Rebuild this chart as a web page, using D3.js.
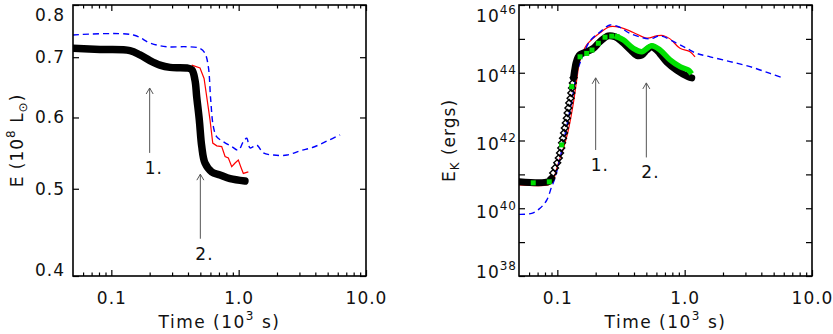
<!DOCTYPE html>
<html>
<head>
<meta charset="utf-8">
<script src="https://cdn.jsdelivr.net/npm/d3@7"></script>
<style>
    body { margin: 0; background: #fff; }
    svg { display: block; font-family: "DejaVu Sans", sans-serif; }
    svg text, .axis text { font-family: "DejaVu Sans", sans-serif; font-size: 17px; fill: #111; letter-spacing: 1px; }
    .axis line { stroke: #000; stroke-width: 1.2; }
</style>
</head>
<body>
<svg id="drawing_region"></svg>
<script>
// time axis (10^3 s), same for both panels
const time_ticks = [0.1, 1, 10];
const time_labels = ['0.1', '1.0', '10.0'];
const time_minor = [0.06, 0.07, 0.08, 0.09, 0.2, 0.3, 0.4, 0.5, 0.6, 0.7, 0.8, 0.9, 2, 3, 4, 5, 6, 7, 8, 9];

// left panel: E (10^8 Lsun)
const e_ticks = [0.4, 0.5, 0.6, 0.7, 0.8];
const e_labels = ['0.4', '0.5', '0.6', '0.7', '0.8'];

const lum_black_t = [0.05, 0.0815, 0.140, 0.168, 0.201, 0.241, 0.289, 0.391, 0.428, 0.454, 0.468, 0.491, 0.513, 0.544, 0.615, 0.714, 0.856, 1.12];
const lum_black_e = [0.716, 0.714, 0.712, 0.704, 0.694, 0.686, 0.682, 0.681, 0.678, 0.660, 0.633, 0.596, 0.557, 0.534, 0.522, 0.518, 0.513, 0.510];

const lum_red_t = [0.428, 0.497, 0.535, 0.561, 0.596, 0.626, 0.673, 0.736, 0.782, 0.830, 0.882, 0.937, 0.994, 1.038, 1.088, 1.191];
const lum_red_e = [0.686, 0.681, 0.663, 0.633, 0.596, 0.562, 0.558, 0.557, 0.543, 0.541, 0.529, 0.534, 0.538, 0.529, 0.520, 0.522];

const lum_blue_t = [0.05, 0.149, 0.201, 0.272, 0.391, 0.497, 0.544, 0.578, 0.603, 0.633, 0.673, 0.758, 0.882, 0.994, 1.088, 1.157, 1.229, 1.387, 1.563, 1.874, 2.40, 3.04, 3.84, 4.95, 6.26];
const lum_blue_e = [0.741, 0.741, 0.726, 0.719, 0.719, 0.716, 0.707, 0.683, 0.628, 0.586, 0.571, 0.564, 0.557, 0.552, 0.564, 0.569, 0.555, 0.559, 0.548, 0.545, 0.545, 0.551, 0.556, 0.565, 0.574];

// right panel: E_K (ergs), values kept as log10
const ek_major = [38, 40, 42, 44, 46];
const ek_minor = [39, 41, 43, 45];

const ek_flat_t = [0.05, 0.0849, 0.0892];
const ek_flat_log = [40.78, 40.78, 40.86];

const ek_rise_t = [0.0900, 0.0928, 0.0959, 0.0998, 0.1027, 0.1050, 0.1073, 0.1089, 0.1108, 0.1129, 0.1145, 0.1166, 0.1187, 0.1204, 0.1222, 0.1240, 0.1270, 0.1288, 0.1304, 0.1323, 0.1342];
const ek_rise_log = [40.89, 41.04, 41.19, 41.34, 41.48, 41.63, 41.78, 41.93, 42.07, 42.22, 42.37, 42.52, 42.66, 42.81, 42.96, 43.11, 43.25, 43.40, 43.55, 43.70, 43.85];

const ek_top_t = [0.1342, 0.1357, 0.1377, 0.1402, 0.1454, 0.1508, 0.1701, 0.1917, 0.2164, 0.2514, 0.2839, 0.3206, 0.3724, 0.4204, 0.4602, 0.5036, 0.5514, 0.6036, 0.723, 0.8667, 1.069, 1.137];
const ek_top_log = [43.85, 43.99, 44.14, 44.29, 44.46, 44.54, 44.62, 44.72, 44.92, 45.09, 45.06, 44.92, 44.69, 44.51, 44.52, 44.67, 44.76, 44.67, 44.32, 44.08, 43.88, 43.85];

const ek_sq_t = [0.0647, 0.0865, 0.1083, 0.1297, 0.1508, 0.1701, 0.1872, 0.2099, 0.2369, 0.2674, 0.2959];
const ek_sq_log = [40.75, 40.78, 41.87, 43.59, 44.47, 44.57, 44.67, 44.87, 45.05, 45.08, 45.06];

const ek_green_t = [0.2959, 0.3299, 0.3952, 0.4602, 0.5514, 0.6404, 0.768, 0.920, 1.069, 1.102];
const ek_green_log = [45.06, 44.97, 44.72, 44.62, 44.80, 44.67, 44.38, 44.18, 44.08, 44.03];

const ek_red_t = [0.05, 0.0845, 0.0917, 0.0976, 0.1031, 0.1119, 0.1220, 0.1336, 0.1420, 0.1508, 0.1701, 0.2164, 0.2593, 0.3107, 0.3952, 0.5036, 0.6036, 0.6765, 0.768, 0.920, 1.102, 1.206];
const ek_red_log = [40.69, 40.69, 40.77, 41.10, 41.39, 41.78, 42.31, 43.10, 43.79, 44.38, 44.82, 45.18, 45.36, 45.34, 45.19, 45.02, 45.09, 45.10, 45.00, 44.72, 44.62, 44.47];

const ek_blue_t = [0.05, 0.0629, 0.0731, 0.0826, 0.0903, 0.0947, 0.105, 0.117, 0.1304, 0.1428, 0.1563, 0.1806, 0.2164, 0.2593, 0.3107, 0.3724, 0.5346, 0.6404, 0.8667, 1.038, 1.245, 1.583, 2.273, 3.263, 4.685, 5.96];
const ek_blue_log = [39.82, 39.85, 40.00, 40.24, 40.64, 40.83, 41.48, 42.31, 43.20, 44.02, 44.44, 44.94, 45.20, 45.41, 45.34, 45.16, 45.00, 45.09, 44.87, 44.72, 44.57, 44.47, 44.33, 44.18, 43.98, 43.84];

// arrows marking events 1. and 2.
const arrow_t = [0.2, 0.5];
const arrow_labels = ['1.', '2.'];
const lum_arrow_from = [0.548, 0.44];
const lum_arrow_to = [0.647, 0.519];
const ek_arrow_from = [41.72, 41.5];
const ek_arrow_to = [43.85, 43.7];

const zip = (a, b) => a.map((d, i) => [d, b[i]]);

const svg = d3.select('#drawing_region')
    .attr('width', 833)
    .attr('height', 334);

function makePanel(box, ydomain, id) {
    const g = svg.append('g');
    const x = d3.scaleLog().domain([0.05, 10]).range([box.left, box.right]);
    const y = d3.scaleLog().domain(ydomain).range([box.bottom, box.top]);
    svg.append('clipPath').attr('id', id).append('rect')
        .attr('x', box.left).attr('y', box.top)
        .attr('width', box.right - box.left).attr('height', box.bottom - box.top);
    const plot = g.append('g').attr('clip-path', `url(#${id})`);
    return { g, x, y, plot, box };
}

function timeAxes(p) {
    const b = p.box;
    p.g.append('g').attr('class', 'axis')
        .attr('transform', `translate(0,${b.bottom})`)
        .call(d3.axisBottom(p.x).tickValues(time_ticks).tickFormat((d, i) => time_labels[i])
            .tickSize(-6).tickSizeOuter(0).tickPadding(16));
    p.g.append('g').attr('class', 'axis')
        .attr('transform', `translate(0,${b.bottom})`)
        .call(d3.axisBottom(p.x).tickValues(time_minor).tickFormat('').tickSize(-3.5).tickSizeOuter(0));
    p.g.append('g').attr('class', 'axis')
        .attr('transform', `translate(0,${b.top})`)
        .call(d3.axisTop(p.x).tickValues(time_ticks).tickFormat('').tickSize(-6).tickSizeOuter(0));
    p.g.append('g').attr('class', 'axis')
        .attr('transform', `translate(0,${b.top})`)
        .call(d3.axisTop(p.x).tickValues(time_minor).tickFormat('').tickSize(-3.5).tickSizeOuter(0));

    const title = p.g.append('text')
        .attr('x', (b.left + b.right) / 2)
        .attr('y', 328)
        .attr('text-anchor', 'middle')
        .style('letter-spacing', '1.5px');
    title.append('tspan').text('Time (10');
    title.append('tspan').attr('dy', -8).style('font-size', '12px').text('3');
    title.append('tspan').attr('dy', 8).text(' s)');
}

function frame(p) {
    const b = p.box;
    p.g.selectAll('.domain').remove();
    p.g.append('rect')
        .attr('x', b.left).attr('y', b.top)
        .attr('width', b.right - b.left).attr('height', b.bottom - b.top)
        .attr('fill', 'none').attr('stroke', '#000').attr('stroke-width', 1.6);
}

function arrows(p, from, to, fy) {
    arrow_t.forEach((t, i) => {
        const x = p.x(t), y0 = p.y(fy(from[i])), y1 = p.y(fy(to[i]));
        p.g.append('line')
            .attr('x1', x).attr('x2', x).attr('y1', y0).attr('y2', y1)
            .attr('stroke', '#555').attr('stroke-width', 1);
        p.g.append('path')
            .attr('d', `M${x - 3.5},${y1 + 6}L${x},${y1}L${x + 3.5},${y1 + 6}`)
            .attr('fill', 'none').attr('stroke', '#555').attr('stroke-width', 1);
        p.g.append('text')
            .attr('x', x - 5).attr('y', y0 + 21)
            .text(arrow_labels[i]);
    });
}

// ---------- left panel ----------
const pl = makePanel({ left: 73, right: 366, top: 5, bottom: 276 }, [0.4, 0.8], 'clipL');

const lineL = d3.line().x(d => pl.x(d[0])).y(d => pl.y(d[1])).curve(d3.curveMonotoneX);

pl.plot.append('path')
    .datum(zip(lum_red_t, lum_red_e))
    .attr('d', d3.line().x(d => pl.x(d[0])).y(d => pl.y(d[1])))
    .attr('fill', 'none').attr('stroke', '#ff0000').attr('stroke-width', 1.2);

pl.plot.append('path')
    .datum(zip(lum_blue_t, lum_blue_e))
    .attr('d', d3.line().x(d => pl.x(d[0])).y(d => pl.y(d[1])).curve(d3.curveCatmullRom))
    .attr('fill', 'none').attr('stroke', '#0000ff').attr('stroke-width', 1.4)
    .attr('stroke-dasharray', '6,4');

pl.plot.append('path')
    .datum(zip(lum_black_t, lum_black_e))
    .attr('d', d3.line().x(d => pl.x(d[0])).y(d => pl.y(d[1])).curve(d3.curveCatmullRom))
    .attr('fill', 'none').attr('stroke', '#000').attr('stroke-width', 7.5)
    .attr('stroke-linecap', 'round').attr('stroke-linejoin', 'round');

timeAxes(pl);

pl.g.append('g').attr('class', 'axis yl')
    .attr('transform', `translate(${pl.box.left},0)`)
    .call(d3.axisLeft(pl.y).tickValues(e_ticks).tickFormat((d, i) => e_labels[i])
        .tickSize(-6).tickSizeOuter(0).tickPadding(8));
pl.g.append('g').attr('class', 'axis')
    .attr('transform', `translate(${pl.box.right},0)`)
    .call(d3.axisRight(pl.y).tickValues(e_ticks).tickFormat('').tickSize(-6).tickSizeOuter(0));

// IDL pulls the end labels inside the box
pl.g.selectAll('.yl .tick text')
    .attr('y', d => d === 0.8 ? 10 : d === 0.4 ? -6 : 0);

const ytL = pl.g.append('text')
    .attr('transform', `translate(23,${(pl.box.top + pl.box.bottom) / 2}) rotate(-90)`)
    .attr('text-anchor', 'middle');
ytL.append('tspan').text('E (10');
ytL.append('tspan').attr('dy', -8).style('font-size', '12px').text('8');
ytL.append('tspan').attr('dy', 8).text(' L');
ytL.append('tspan').attr('dy', 4).style('font-size', '12px').text('\u2299');
ytL.append('tspan').attr('dy', -4).text(')');

arrows(pl, lum_arrow_from, lum_arrow_to, v => v);
frame(pl);

// ---------- right panel ----------
const pr = makePanel({ left: 519, right: 812, top: 5, bottom: 276 }, [1e38, 1e46], 'clipR');
const lineR = d3.line().x(d => pr.x(d[0])).y(d => pr.y(Math.pow(10, d[1])));

pr.plot.append('path')
    .datum(zip(ek_red_t, ek_red_log))
    .attr('d', lineR.curve(d3.curveCatmullRom))
    .attr('fill', 'none').attr('stroke', '#ff0000').attr('stroke-width', 1.2);

pr.plot.append('path')
    .datum(zip(ek_blue_t, ek_blue_log))
    .attr('d', lineR.curve(d3.curveCatmullRom))
    .attr('fill', 'none').attr('stroke', '#0000ff').attr('stroke-width', 1.4)
    .attr('stroke-dasharray', '6,4');

[zip(ek_flat_t, ek_flat_log), zip(ek_top_t, ek_top_log)].forEach(seg => {
    pr.plot.append('path')
        .datum(seg)
        .attr('d', lineR.curve(d3.curveCatmullRom))
        .attr('fill', 'none').attr('stroke', '#000').attr('stroke-width', 7)
        .attr('stroke-linecap', 'round').attr('stroke-linejoin', 'round');
});

pr.plot.selectAll('path.diamond')
    .data(zip(ek_rise_t, ek_rise_log))
    .enter()
    .append('path')
    .attr('class', 'diamond')
    .attr('d', d3.symbol().type(d3.symbolSquare).size(24))
    .attr('transform', d => `translate(${pr.x(d[0])},${pr.y(Math.pow(10, d[1]))}) rotate(45)`)
    .attr('fill', 'none').attr('stroke', '#000').attr('stroke-width', 1.4);

pr.plot.append('path')
    .datum(zip(ek_green_t, ek_green_log))
    .attr('d', lineR.curve(d3.curveCatmullRom))
    .attr('fill', 'none').attr('stroke', '#00e000').attr('stroke-width', 5.5)
    .attr('stroke-linecap', 'square');

pr.plot.selectAll('path.sq')
    .data(zip(ek_sq_t, ek_sq_log))
    .enter()
    .append('path')
    .attr('class', 'sq')
    .attr('d', d3.symbol().type(d3.symbolSquare).size(25))
    .attr('transform', d => `translate(${pr.x(d[0])},${pr.y(Math.pow(10, d[1]))})`)
    .attr('fill', '#00e000');

timeAxes(pr);

const yr = pr.g.append('g').attr('class', 'axis yr')
    .attr('transform', `translate(${pr.box.left},0)`)
    .call(d3.axisLeft(pr.y).tickValues(ek_major.map(v => Math.pow(10, v))).tickFormat('')
        .tickSize(-6).tickSizeOuter(0));
pr.g.append('g').attr('class', 'axis')
    .attr('transform', `translate(${pr.box.left},0)`)
    .call(d3.axisLeft(pr.y).tickValues(ek_minor.map(v => Math.pow(10, v))).tickFormat('')
        .tickSize(-6).tickSizeOuter(0));
[ek_major, ek_minor].forEach(vals => {
    pr.g.append('g').attr('class', 'axis')
        .attr('transform', `translate(${pr.box.right},0)`)
        .call(d3.axisRight(pr.y).tickValues(vals.map(v => Math.pow(10, v))).tickFormat('')
            .tickSize(-6).tickSizeOuter(0));
});

yr.selectAll('.tick').each(function(d, i) {
    const shift = i === ek_major.length - 1 ? 7 : i === 0 ? -8 : 0;
    const t = d3.select(this).append('text')
        .attr('x', -2).attr('y', 9 + shift)
        .attr('text-anchor', 'end');
    t.append('tspan').text('10');
    t.append('tspan').attr('dy', -8).style('font-size', '12px').text(ek_major[i]);
});

const ytR = pr.g.append('text')
    .attr('transform', `translate(455,${(pr.box.top + pr.box.bottom) / 2}) rotate(-90)`)
    .attr('text-anchor', 'middle');
ytR.append('tspan').text('E');
ytR.append('tspan').attr('dy', 4).style('font-size', '12px').text('K');
ytR.append('tspan').attr('dy', -4).text(' (ergs)');

arrows(pr, ek_arrow_from, ek_arrow_to, v => Math.pow(10, v));
frame(pr);
</script>
</body>
</html>
